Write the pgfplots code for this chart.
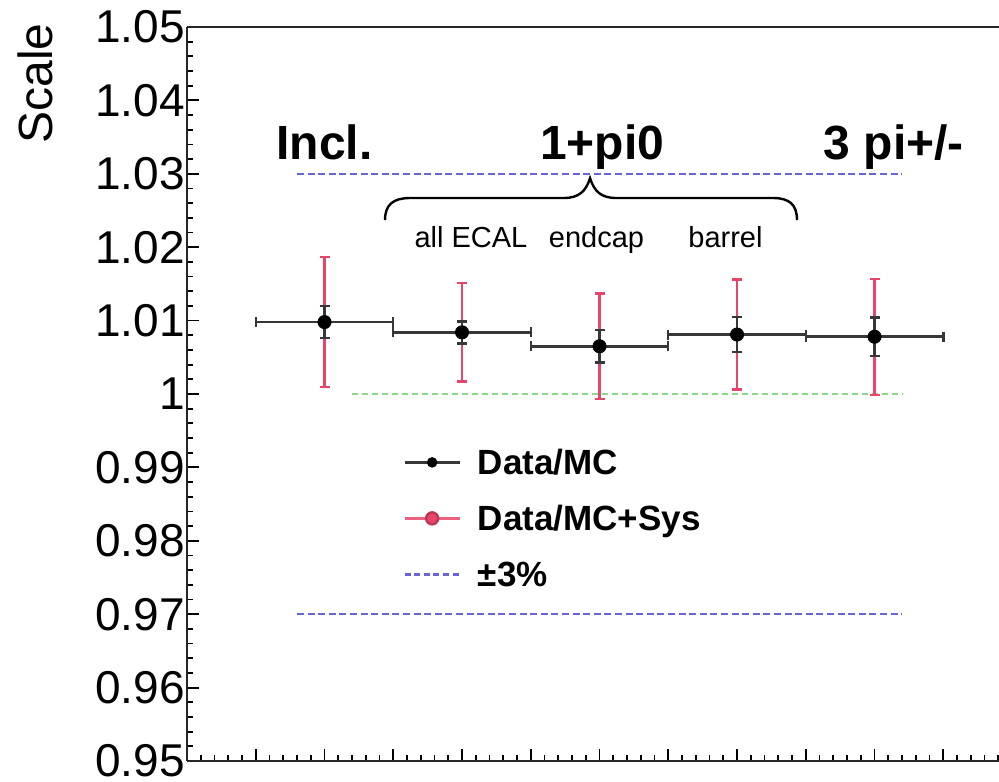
\documentclass[border=0pt]{standalone}
\usepackage{fontspec}
\setmainfont{Liberation Sans}
\usepackage{pgfplots}
\pgfplotsset{compat=1.18}
\usepackage{pgfplotstable}

\definecolor{sysred}{RGB}{232,70,105}
\definecolor{statgray}{RGB}{55,55,55}
\definecolor{bandblue}{RGB}{105,100,215}
\definecolor{refgreen}{RGB}{140,215,140}

% bin centre, scale, half bin width, stat. error, stat.+syst. error
\pgfplotstableread{
x y ex stat sys
1 1.0098 0.5 0.0022 0.0089
2 1.0084 0.5 0.0015 0.0067
3 1.0065 0.5 0.0022 0.0072
4 1.0081 0.5 0.0024 0.0075
5 1.0078 0.5 0.0026 0.0079
}\scaletable

\begin{document}
\begin{tikzpicture}
\begin{axis}[
  name=ax,
  scale only axis, width=406pt, height=367pt,
  xmin=0, xmax=5.905, ymin=0.95, ymax=1.05,
  clip=false,
  axis x line*=box, axis y line*=left,
  axis line style={line width=1.4pt, black!85},
  tick align=inside,
  xtick={0,0.5,...,6}, xticklabels={},
  minor x tick num=4,
  ytick={0.95,0.96,0.97,0.98,0.99,1,1.01,1.02,1.03,1.04,1.05},
  yticklabels={0.95,0.96,0.97,0.98,0.99,1,1.01,1.02,1.03,1.04,1.05},
  minor y tick num=4,
  xtick pos=bottom, ytick pos=left,
  major tick length=6pt, minor tick length=3pt,
  tick style={line width=0.9pt, black},
  /pgf/number format/assume math mode=true,
  yticklabel style={font=\fontsize{23}{27}\selectfont, inner sep=1pt},
  legend image code/.code={%
    \draw[mark repeat=2, mark phase=2, #1] plot coordinates {(0pt,0pt) (13.75pt,0pt) (27.5pt,0pt)};
    \path (36pt,0pt);},
  legend cell align=left,
  legend style={at={(axis cs:1.571,0.99244)}, anchor=north west,
    draw=none, fill=none, inner sep=0pt,
    font=\bfseries\fontsize{17.5}{21}\selectfont,
    nodes={inner sep=0pt, text height=12.5pt, text depth=0pt},
    row sep=15.5pt},
]

% reference lines
\addplot[bandblue, line width=1.2pt, dash pattern=on 3.5pt off 1.8pt, forget plot]
  coordinates {(0.8,1.03) (5.2,1.03)};
\addplot[bandblue, line width=1.2pt, dash pattern=on 3.5pt off 1.8pt, forget plot]
  coordinates {(0.8,0.97) (5.2,0.97)};
\addplot[refgreen, line width=1.2pt, dash pattern=on 3pt off 2pt, forget plot]
  coordinates {(1.2,1) (5.2,1)};

% stat.+syst. errors
\addplot[only marks, mark=none, forget plot,
  error bars/.cd, y dir=both, y explicit,
  error bar style={sysred, line width=1.3pt},
  error mark options={rotate=90, sysred, line width=1.1pt, mark size=2.5pt}]
  table[x=x, y=y, y error=sys] {\scaletable};

% data/MC with stat. errors
\addplot[only marks, mark=*, mark size=3.3pt, black, forget plot,
  error bars/.cd, x dir=both, x explicit, y dir=both, y explicit,
  error bar style={statgray, line width=1.4pt},
  error mark options={rotate=90, statgray, line width=1.2pt, mark size=2.5pt}]
  table[x=x, y=y, x error=ex, y error=stat] {\scaletable};

\addlegendimage{statgray, line width=1.2pt, mark=*, mark size=2pt, mark options={black, fill=black}}
\addlegendentry{Data/MC}
\addlegendimage{sysred!85!white, line width=1.2pt, mark=*, mark size=3pt, mark options={draw=sysred!80!black, fill=sysred}}
\addlegendentry{Data/MC+Sys}
\addlegendimage{bandblue, line width=1.2pt, dash pattern=on 3pt off 1.8pt}
\addlegendentry{±3\%}

% channel labels
\node[font=\bfseries\fontsize{24}{28}\selectfont, anchor=base] at (axis cs:1.0,1.0319) {Incl.};
\node[font=\bfseries\fontsize{24}{28}\selectfont, anchor=base] at (axis cs:3.02,1.0319) {1+pi0};
\node[font=\bfseries\fontsize{24}{28}\selectfont, anchor=base] at (axis cs:5.14,1.0319) {3 pi+/-};
\node[font=\fontsize{14.5}{17}\selectfont, anchor=base] at (axis cs:2.065,1.0199) {all ECAL};
\node[font=\fontsize{14.5}{17}\selectfont, anchor=base] at (axis cs:2.978,1.0199) {endcap};
\node[font=\fontsize{14.5}{17}\selectfont, anchor=base] at (axis cs:3.916,1.0199) {barrel};

% brace grouping the 1+pi0 sub-categories
\draw[line width=1.2pt, black]
  (axis cs:1.44,1.0237) .. controls (axis cs:1.44,1.0258) and (axis cs:1.50,1.0267) .. (axis cs:1.622,1.0267)
  -- (axis cs:2.738,1.0267) .. controls (axis cs:2.85,1.0267) and (axis cs:2.90,1.0276) .. (axis cs:2.931,1.0294)
  .. controls (axis cs:2.962,1.0276) and (axis cs:3.01,1.0267) .. (axis cs:3.124,1.0267)
  -- (axis cs:4.262,1.0267) .. controls (axis cs:4.38,1.0267) and (axis cs:4.436,1.0258) .. (axis cs:4.436,1.0237);

% axis title
\node[rotate=90, font=\fontsize{24}{28}\selectfont] at (axis cs:-1.105,1.0423) {Scale};
\end{axis}
\pgfresetboundingbox
\path[use as bounding box] ([shift={(-93.5pt,-10pt)}]ax.south west) rectangle ([shift={(0pt,13.5pt)}]ax.north east);
\end{tikzpicture}
\end{document}
